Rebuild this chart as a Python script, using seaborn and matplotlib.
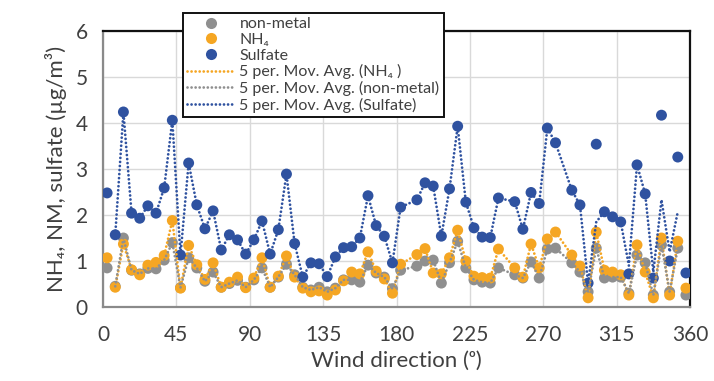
import numpy as np
import pandas as pd
import matplotlib
matplotlib.use("Agg")
import matplotlib.pyplot as plt
import seaborn as sns
from matplotlib.lines import Line2D

nan = np.nan

# 5-degree wind direction bins (bin centres)
direction = np.arange(2.5, 360, 5.0)

sulfate = [2.48, 1.57, 4.24, 2.04, 1.93, 2.20, 2.04, 2.59, 4.06, 1.13,
           3.13, 2.22, 1.70, 2.09, 1.24, 1.57, 1.46, 1.15, 1.46, 1.87,
           1.15, 1.68, 2.89, 1.38, 0.65, 0.96, 0.94, 0.66, 1.09, 1.29,
           1.31, 1.50, 2.42, 1.77, 1.54, 0.96, 2.17, nan, 2.33, 2.70,
           2.63, 1.54, 2.57, 3.93, 2.28, 1.72, 1.52, 1.51, 2.37, nan,
           2.29, 1.69, 2.49, 2.25, 3.89, 3.57, nan, 2.54, 2.22, 0.52,
           3.54, 2.07, 1.96, 1.85, 0.72, 3.09, 2.46, 0.63, 4.17, 1.00,
           3.26, 0.74]

nh4 = [1.07, 0.43, 1.37, 0.81, 0.70, 0.91, 0.97, 1.12, 1.88, 0.41,
       1.34, 0.92, 0.60, 0.96, 0.43, 0.54, 0.65, 0.42, 0.63, 1.07,
       0.43, 0.67, 1.11, 0.65, 0.41, 0.33, 0.35, 0.26, 0.37, 0.57,
       0.76, 0.72, 1.20, 0.78, 0.61, 0.30, 0.93, nan, 1.14, 1.27,
       0.74, 0.72, 1.07, 1.67, 1.00, 0.67, 0.64, 0.63, 1.26, nan,
       0.85, 0.65, 1.37, 0.85, 1.48, 1.63, nan, 1.13, 0.89, 0.20,
       1.63, 0.80, 0.76, 0.70, 0.26, 1.35, 0.76, 0.20, 1.50, 0.26,
       1.43, 0.41]

nonmetal = [0.85, 0.45, 1.50, 0.80, 0.72, 0.84, 0.83, 1.02, 1.40, 0.42,
            1.07, 0.85, 0.56, 0.76, 0.43, 0.51, 0.58, 0.43, 0.59, 0.85,
            0.43, 0.65, 0.93, 0.70, 0.43, 0.37, 0.43, 0.33, 0.41, 0.59,
            0.59, 0.54, 0.91, 0.74, 0.65, 0.40, 0.80, nan, 0.89, 1.00,
            1.02, 0.52, 0.96, 1.43, 0.85, 0.59, 0.54, 0.52, 0.85, nan,
            0.70, 0.63, 0.98, 0.63, 1.26, 1.28, nan, 0.96, 0.76, 0.33,
            1.28, 0.63, 0.65, 0.65, 0.30, 1.13, 0.96, 0.26, 1.35, 0.33,
            1.28, 0.26]

# 5-period moving-average trend values (bins 2..71)
sulfate_avg = [1.57, 4.24, 2.04, 1.93, 2.20, 2.04, 2.59, 4.06, 1.13,
               3.13, 2.22, 1.70, 2.09, 1.24, 1.57, 1.46, 1.15, 1.46, 1.87,
               1.15, 1.68, 2.89, 1.38, 0.65, 0.96, 0.94, 0.66, 1.09, 1.29,
               1.31, 1.50, 2.42, 1.77, 1.54, 0.96, 2.17, nan, 2.33, 2.70,
               2.63, 1.54, 2.57, 3.93, 2.28, 1.72, 1.52, 1.51, 2.37, nan,
               2.29, 1.69, 2.49, 2.25, 3.89, 3.57, nan, 2.54, 2.22, 0.52,
               1.85, 2.07, 1.96, 1.85, 0.90, 3.09, 2.46, 0.76, 2.33, 1.20,
               2.07]
nh4_avg = nh4[1:-1]
nonmetal_avg = nonmetal[1:-1]
avg_direction = direction[1:-1]

C_NM = "#8f8f8f"
C_NH4 = "#f5a623"
C_SO4 = "#2f52a0"
TXT = "#404040"

sns.set_theme(style="white")
plt.rcParams["font.family"] = ["Lato", "DejaVu Sans"]

fig, ax = plt.subplots(figsize=(7.14, 3.81), dpi=100)
fig.subplots_adjust(left=0.1443, right=0.9664, bottom=0.1942, top=0.9186)

points = pd.DataFrame({"direction": direction, "nonmetal": nonmetal,
                       "nh4": nh4, "sulfate": sulfate})
trend = pd.DataFrame({"direction": avg_direction, "nonmetal": nonmetal_avg,
                      "nh4": nh4_avg, "sulfate": sulfate_avg})

for col, c in [("nonmetal", C_NM), ("nh4", C_NH4), ("sulfate", C_SO4)]:
    d = points[["direction", col]].dropna()
    sns.scatterplot(data=d, x="direction", y=col, color=c, s=62,
                    edgecolor="none", linewidth=0, ax=ax, zorder=3,
                    legend=False)

LW = 2.0
dot = (0, (0.01, 1.45))
for col, c in [("nh4", C_NH4), ("nonmetal", C_NM), ("sulfate", C_SO4)]:
    d = trend[["direction", col]].dropna()
    sns.lineplot(data=d, x="direction", y=col, color=c, lw=LW,
                 linestyle=dot, dash_capstyle="round", estimator=None,
                 sort=False, ax=ax, zorder=4, legend=False)

ax.set_xlim(0, 360)
ax.set_ylim(0, 6)
ax.set_xticks(range(0, 361, 45))
ax.set_yticks(range(0, 7))
ax.grid(True, color="#d9d9d9", lw=1.0)
ax.set_axisbelow(True)
ax.tick_params(axis="x", length=0, labelsize=15, colors=TXT, pad=13)
ax.tick_params(axis="y", length=0, labelsize=15, colors=TXT, pad=11)
for s in ["left", "bottom"]:
    ax.spines[s].set_color("#8a8a8a")
    ax.spines[s].set_linewidth(1.6)
for s in ["top", "right"]:
    ax.spines[s].set_color("#111111")
    ax.spines[s].set_linewidth(1.6)

ax.set_xlabel("Wind direction (ᵒ)", fontsize=16, color=TXT, labelpad=4)
ax.set_ylabel("NH₄, NM, sulfate (µg/m³)", fontsize=16, color=TXT,
              labelpad=6)

handles = [
    Line2D([], [], ls="none", marker="o", ms=8, color=C_NM, mec="none"),
    Line2D([], [], ls="none", marker="o", ms=8, color=C_NH4, mec="none"),
    Line2D([], [], ls="none", marker="o", ms=8, color=C_SO4, mec="none"),
    Line2D([], [], color=C_NH4, lw=LW, ls=dot, dash_capstyle="round"),
    Line2D([], [], color=C_NM, lw=LW, ls=dot, dash_capstyle="round"),
    Line2D([], [], color=C_SO4, lw=LW, ls=dot, dash_capstyle="round"),
]
labels = ["non-metal", "NH₄", "Sulfate", "5 per. Mov. Avg. (NH₄ )",
          "5 per. Mov. Avg. (non-metal)", "5 per. Mov. Avg. (Sulfate)"]
leg = fig.legend(handles, labels, loc="upper left",
                 bbox_to_anchor=(0.256, 0.966), fontsize=11.5,
                 frameon=True, fancybox=False, framealpha=1,
                 edgecolor="#111111", handlelength=3.0, handletextpad=0.3,
                 labelspacing=0.1, borderpad=0.25, borderaxespad=0)
leg.get_frame().set_linewidth(1.4)
for t in leg.get_texts():
    t.set_color(TXT)
leg.set_zorder(10)

fig.savefig("out.png", dpi=100)
